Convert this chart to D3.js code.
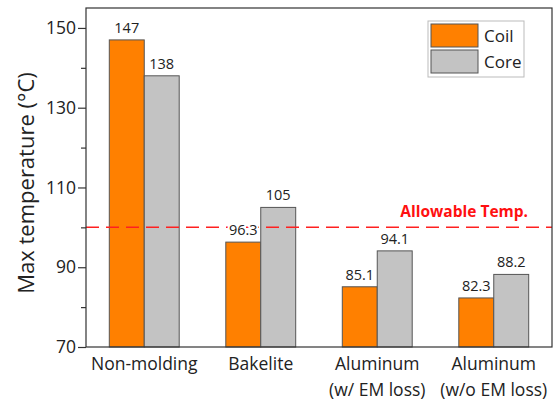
<!DOCTYPE html>
<html><head><meta charset="utf-8">
<script src="https://cdn.jsdelivr.net/npm/d3@7"></script>
<style>body{margin:0;background:#fff}svg{display:block}text{font-family:"Open Sans",Lato,sans-serif}</style>
</head><body>
<script>
const categories = [["Non-molding"],["Bakelite"],["Aluminum","(w/ EM loss)"],["Aluminum","(w/o EM loss)"]];
const seriesNames = ["Coil","Core"];
const coilValues = [147, 96.3, 85.1, 82.3];
const coreValues = [138, 105, 94.1, 88.2];
const valueLabels = [["147","138"],["96.3","105"],["85.1","94.1"],["82.3","88.2"]];
const yTicks = [70, 90, 110, 130, 150];
const yMinor = [80, 100, 120, 140];
const allowable = 100;
const colors = ["#FF8000","#C3C3C3"];

const W=556,H=403, L=86, R=552, T=8, B=347;
const svg=d3.select("body").append("svg").attr("width",W).attr("height",H);
const catIdx=categories.map((d,i)=>i);
const x0=d3.scaleBand().domain(catIdx).range([L,R]).padding(0);
const bw=x0.bandwidth();
const x1=d3.scaleBand().domain(seriesNames).range([bw*0.2,bw*0.8]).padding(0);
const y=d3.scaleLinear().domain([70,155]).range([B,T]);

// bars
const data=catIdx.map(i=>[coilValues[i],coreValues[i]]);
const g=svg.append("g");
catIdx.forEach(i=>{
  seriesNames.forEach((s,j)=>{
    const v=data[i][j];
    g.append("rect").attr("x",x0(i)+x1(s)).attr("y",y(v)).attr("width",x1.bandwidth()).attr("height",y(70)-y(v))
      .attr("fill",colors[j]).attr("stroke","#555").attr("stroke-width",1);
  });
});

// allowable line
svg.append("line").attr("x1",L).attr("x2",R).attr("y1",y(allowable)).attr("y2",y(allowable))
  .attr("stroke","#FF2020").attr("stroke-width",1.5).attr("stroke-dasharray","13,7");
svg.append("text").attr("x",528).attr("y",y(allowable)-10).attr("text-anchor","end").attr("font-size",15.5)
  .attr("font-weight","bold").attr("fill","#FF1010").text("Allowable Temp.");

// value labels
const lbl=svg.append("g");
catIdx.forEach(i=>{
  seriesNames.forEach((s,j)=>{
    const v=data[i][j];
    lbl.append("text").attr("x",x0(i)+x1(s)+x1.bandwidth()/2).attr("y",y(v)-7).attr("text-anchor","middle")
      .attr("font-size",14.5).attr("fill","#222").attr("stroke","#fff").attr("stroke-width",4)
      .attr("paint-order","stroke").attr("stroke-linejoin","round").text(valueLabels[i][j]);
  });
});

// frame
svg.append("rect").attr("x",L).attr("y",T).attr("width",R-L).attr("height",B-T).attr("fill","none").attr("stroke","#333").attr("stroke-width",1.2);

// y axis
const ya=svg.append("g").attr("transform",`translate(${L},0)`).call(d3.axisLeft(y).tickValues(yTicks).tickSize(8).tickFormat(d3.format("d")));
ya.select(".domain").remove();
ya.selectAll("line").attr("stroke","#333").attr("stroke-width",1.2);
ya.selectAll("text").attr("font-size",17.5).attr("fill","#222").attr("font-family","'Open Sans',sans-serif").attr("x",-10);
const ym=svg.append("g").attr("transform",`translate(${L},0)`).call(d3.axisLeft(y).tickValues(yMinor).tickSize(5).tickFormat(""));
ym.select(".domain").remove();
ym.selectAll("line").attr("stroke","#333").attr("stroke-width",1.2);

// x labels
catIdx.forEach(i=>{
  const cx=x0(i)+bw/2;
  categories[i].forEach((t,k)=>{
    svg.append("text").attr("x",cx).attr("y",370+k*26).attr("text-anchor","middle").attr("font-size",17.5).attr("fill","#222").text(t);
  });
});

// y title
svg.append("text").attr("transform","translate(34,183) rotate(-90)").attr("text-anchor","middle").attr("font-size",22).attr("fill","#222").text("Max temperature (°C)");

// legend
const lg=svg.append("g");
lg.append("rect").attr("x",428).attr("y",21).attr("width",96).attr("height",56).attr("fill","#fff").attr("stroke","#bbb");
seriesNames.forEach((s,j)=>{
  lg.append("rect").attr("x",431).attr("y",24+j*26).attr("width",47).attr("height",23).attr("fill",colors[j]).attr("stroke","#555");
  lg.append("text").attr("x",484).attr("y",42+j*26).attr("font-size",17).attr("fill","#222").text(s);
});
</script>
</body></html>
